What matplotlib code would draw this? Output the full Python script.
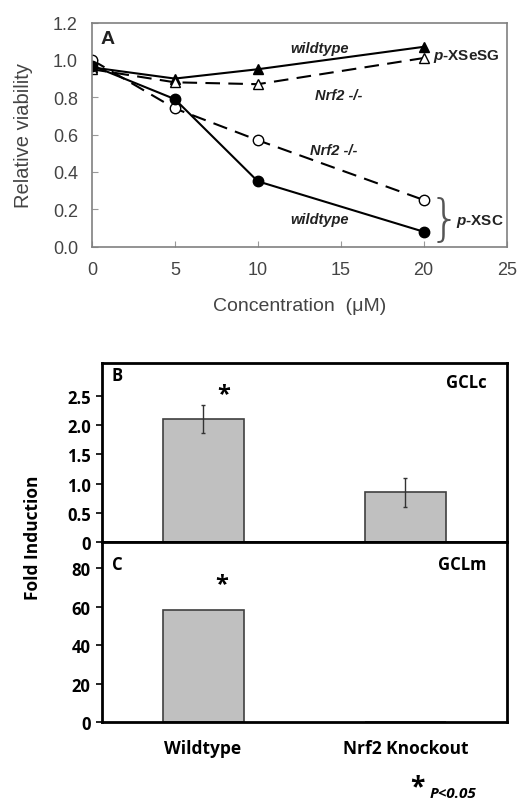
import matplotlib.pyplot as plt
from matplotlib.ticker import FormatStrFormatter

plt.rcParams["mathtext.fontset"] = "custom"
plt.rcParams["mathtext.it"] = "Liberation Sans:bold:italic"
plt.rcParams["mathtext.rm"] = "Liberation Sans:bold"

# -------------------------------
# Data
# -------------------------------
conc = [0, 5, 10, 20]
xsesg_wt = [0.96, 0.90, 0.95, 1.07]
xsesg_ko = [0.95, 0.88, 0.87, 1.01]
xsc_ko = [1.00, 0.74, 0.57, 0.25]
xsc_wt = [0.97, 0.79, 0.35, 0.08]

groups = ["Wildtype", "Nrf2 Knockout"]
gclc = [2.10, 0.85]
gclc_err = [0.24, 0.25]
gclm = [58.2, 0.0]

fig = plt.figure(figsize=(5.25, 8.12), dpi=100)

# -------------------------------
# Panel A: viability curves
# -------------------------------
afont = "Liberation Sans"
axA = fig.add_axes([0.175, 0.695, 0.790, 0.276])
axA.plot(conc, xsesg_wt, "-", color="black", lw=1.5, marker="^", ms=7,
         mfc="black", mec="black")
axA.plot(conc, xsesg_ko, "--", color="black", lw=1.5, marker="^", ms=7,
         mfc="white", mec="black", dashes=(7, 4))
axA.plot(conc, xsc_ko, "--", color="black", lw=1.5, marker="o", ms=7.5,
         mfc="white", mec="black", dashes=(7, 4))
axA.plot(conc, xsc_wt, "-", color="black", lw=1.5, marker="o", ms=7.5,
         mfc="black", mec="black")

axA.set_xlim(0, 25)
axA.set_ylim(0, 1.2)
axA.set_xticks([0, 5, 10, 15, 20, 25])
axA.set_yticks([0, 0.2, 0.4, 0.6, 0.8, 1.0, 1.2])
axA.yaxis.set_major_formatter(FormatStrFormatter("%.1f"))
for s in axA.spines.values():
    s.set_color("#808080")
    s.set_linewidth(1.2)
axA.tick_params(colors="#999999", labelcolor="#444444", labelsize=13,
                length=4, direction="in", pad=10,
                labelfontfamily=afont)
axA.set_xlabel("Concentration  (\u03bcM)", fontsize=14, color="#444444",
               family=afont, labelpad=14)
axA.set_ylabel("Relative viability", fontsize=14.5, color="#444444",
               family=afont, labelpad=14)

axA.text(0.5, 1.115, "A", fontsize=14, fontweight="bold", va="center",
         family=afont, color="#222222")
ann = dict(fontsize=10.5, fontweight="bold", style="italic", ha="center",
           va="center", family=afont, color="#222222")
axA.text(13.7, 1.065, "wildtype", **ann)
axA.text(14.9, 0.81, "Nrf2 -/-", **ann)
axA.text(14.6, 0.52, "Nrf2 -/-", **ann)
axA.text(13.7, 0.15, "wildtype", **ann)
axA.text(20.55, 1.025, r"$\mathit{p}$-XSeSG", fontsize=11, fontweight="bold",
         va="center", family=afont, color="#222222")
axA.text(21.95, 0.14, r"$\mathit{p}$-XSC", fontsize=11, fontweight="bold",
         va="center", family=afont, color="#222222")
axA.text(20.3, 0.145, "}", fontsize=36, va="center", ha="left",
         family="DejaVu Sans", fontweight="light", color="#555555")

# -------------------------------
# Panel B: GCLc
# -------------------------------
xpos = [0, 1]
bfont = "Open Sans"

axB = fig.add_axes([0.194, 0.331, 0.771, 0.221])
axB.bar(xpos, gclc, width=0.4, color="#c0c0c0", edgecolor="#404040", lw=1.2)
axB.errorbar(xpos, gclc, yerr=gclc_err, fmt="none", ecolor="#333333",
             elinewidth=1.0, capsize=1.5)
axB.set_xlim(-0.5, 1.5)
axB.set_ylim(0, 3.06)
axB.set_yticks([0, 0.5, 1.0, 1.5, 2.0, 2.5])
axB.set_yticklabels(["0", "0.5", "1.0", "1.5", "2.0", "2.5"])
axB.set_xticks([])
axB.text(0.1, 2.53, "*", fontsize=17, fontweight="bold", ha="center",
         va="center", family=bfont)
axB.text(-0.45, 2.86, "B", fontsize=12, fontweight="bold", va="center",
         family=bfont)
axB.text(1.40, 2.74, "GCLc", fontsize=12, fontweight="bold", va="center",
         ha="right", family=bfont)

# -------------------------------
# Panel C: GCLm
# -------------------------------
axC = fig.add_axes([0.194, 0.1092, 0.771, 0.2218])
axC.bar(xpos, gclm, width=0.4, color="#c0c0c0", edgecolor="#404040", lw=1.2)
axC.set_xlim(-0.5, 1.5)
axC.set_ylim(0, 93.5)
axC.set_yticks([0, 20, 40, 60, 80])
axC.set_xticks(xpos)
axC.set_xticklabels(groups)
axC.text(0.09, 72, "*", fontsize=17, fontweight="bold", ha="center",
         va="center", family=bfont)
axC.text(-0.45, 82, "C", fontsize=12, fontweight="bold", va="center",
         family=bfont)
axC.text(1.40, 82, "GCLm", fontsize=12, fontweight="bold", va="center",
         ha="right", family=bfont)

for ax in (axB, axC):
    for s in ax.spines.values():
        s.set_color("black")
        s.set_linewidth(2)
    ax.tick_params(axis="y", length=4, width=1.2, direction="out",
                   labelsize=12, pad=4)
    ax.tick_params(axis="x", length=0, labelsize=12.5, pad=12)
    for lab in ax.get_xticklabels() + ax.get_yticklabels():
        lab.set_fontweight("bold")
        lab.set_family(bfont)

fig.text(0.063, 0.338, "Fold Induction", rotation=90, ha="center",
         va="center", fontsize=12.5, fontweight="bold", family=bfont)

fig.text(0.795, 0.030, "*", fontsize=19, fontweight="bold", ha="center",
         va="center", family=bfont)
fig.text(0.818, 0.022, "P<0.05", fontsize=11, fontweight="bold",
         style="italic", ha="left", va="center", family=bfont)

fig.savefig("out.png", dpi=100)
